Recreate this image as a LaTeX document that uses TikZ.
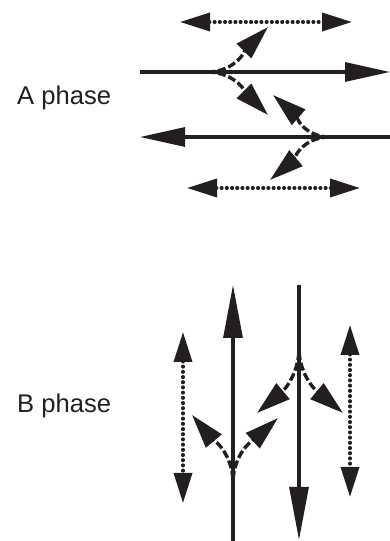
\documentclass[tikz,border=0pt]{standalone}
\usepackage{fontspec}
\setmainfont{Liberation Sans}
\usepackage{tikz}
\usetikzlibrary{arrows.meta}
\usetikzlibrary{positioning}
\definecolor{inkblack}{HTML}{231F20}
\tikzset{
  phase_label/.style = {anchor=west, inner sep=0pt, text=inkblack,
    font=\fontsize{25.6}{30}\selectfont},
  main_arrow/.style = {draw=inkblack, line width=3.1pt,
    -{Triangle[length=45pt,width=19pt]}},
  long_arrow/.style = {main_arrow, -{Triangle[length=53pt,width=19pt]}},
  turn_arrow/.style = {draw=inkblack, line width=3.4pt,
    dash pattern=on 8pt off 3pt,
    -{Triangle[length=34pt,width=20pt]}},
  walk_arrow/.style = {draw=inkblack, line width=3.5pt, line cap=round,
    dash pattern=on 0.6pt off 4.6pt,
    {Triangle[length=30pt,width=18pt]}-{Triangle[length=30pt,width=18pt]}}
}
\begin{document}
\begin{tikzpicture}[x=1pt, y=1pt]
  \useasboundingbox (0,0) rectangle (390,541);

  % A phase
  \node[phase_label] (a_label) at (17,443.5) {A phase};
  \coordinate (a1_start) at (140,469);
  \coordinate (a1_end)   at (390,469);
  \coordinate (a1_split) at (207,469);
  \coordinate (a2_start) at (390,404);
  \coordinate (a2_end)   at (140,404);
  \coordinate (a2_split) at (330,404);
  \coordinate (a1_up)   at (268,514);
  \coordinate (a1_down) at (268,426);
  \coordinate (a2_up)   at (273,446);
  \coordinate (a2_down) at (270,361);
  \coordinate (aw1_l) at (180,519);
  \coordinate (aw1_r) at (352,519);
  \coordinate (aw2_l) at (187,353);
  \coordinate (aw2_r) at (360,353);

  \draw[main_arrow] (a1_start) -- (a1_end);
  \draw[main_arrow] (a2_start) -- (a2_end);
  \draw[turn_arrow] (a1_split) to[out=0, in=225] (a1_up);
  \draw[turn_arrow] (a1_split) to[out=0, in=135] (a1_down);
  \draw[turn_arrow] (a2_split) to[out=180, in=-41] (a2_up);
  \draw[turn_arrow] (a2_split) to[out=180, in=40] (a2_down);
  \draw[walk_arrow] (aw1_l) -- (aw1_r);
  \draw[walk_arrow] (aw2_l) -- (aw2_r);

  % B phase
  \node[phase_label] (b_label) at (17,135) {B phase};
  \coordinate (b1_start) at (233,0);
  \coordinate (b1_end)   at (233,256);
  \coordinate (b1_split) at (233,62);
  \coordinate (b2_start) at (299,256);
  \coordinate (b2_end)   at (299,1);
  \coordinate (b2_split) at (299,189);
  \coordinate (b1_left)  at (192,126);
  \coordinate (b1_right) at (278,123);
  \coordinate (b2_left)  at (257,128);
  \coordinate (b2_right) at (343,128);
  \coordinate (bw1_t) at (183,209);
  \coordinate (bw1_b) at (183,38);
  \coordinate (bw2_t) at (350,216);
  \coordinate (bw2_b) at (350,44);

  \draw[long_arrow] (b1_start) -- (b1_end);
  \draw[long_arrow] (b2_start) -- (b2_end);
  \draw[turn_arrow] (b1_split) to[out=95, in=-50] (b1_left);
  \draw[turn_arrow] (b1_split) to[out=85, in=222] (b1_right);
  \draw[turn_arrow] (b2_split) to[out=265, in=40] (b2_left);
  \draw[turn_arrow] (b2_split) to[out=275, in=140] (b2_right);
  \draw[walk_arrow] (bw1_t) -- (bw1_b);
  \draw[walk_arrow] (bw2_t) -- (bw2_b);
\end{tikzpicture}
\end{document}
